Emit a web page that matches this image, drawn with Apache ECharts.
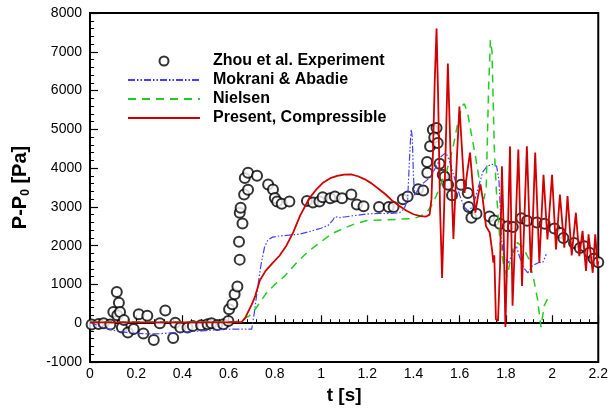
<!DOCTYPE html>
<html><head><meta charset="utf-8">
<script src="https://cdn.jsdelivr.net/npm/echarts@6/dist/echarts.min.js"></script>
<style>html,body{margin:0;padding:0;background:#fff}#c{width:611px;height:410px}</style>
</head><body><div id="c"></div>
<script>
// ---- Experiment (Zhou et al.) ----
const expT = [0.007,0.037,0.059,0.088,0.101,0.116,0.118,0.125,0.13,0.138,0.147,0.164,0.189,0.211,0.231,0.248,0.276,0.302,0.326,0.36,0.369,0.391,0.422,0.445,0.481,0.509,0.526,0.551,0.577,0.599,0.602,0.616,0.626,0.638,0.648,0.645,0.66,0.648,0.652,0.667,0.684,0.67,0.684,0.723,0.771,0.792,0.8,0.81,0.83,0.863,0.939,0.965,0.993,1.007,1.04,1.06,1.091,1.131,1.155,1.184,1.251,1.293,1.314,1.354,1.375,1.42,1.442,1.46,1.459,1.472,1.484,1.5,1.49,1.505,1.513,1.527,1.535,1.55,1.567,1.606,1.635,1.639,1.651,1.673,1.729,1.749,1.774,1.808,1.83,1.867,1.892,1.934,1.968,2.01,2.036,2.049,2.095,2.12,2.14,2.162,2.18,2.2];
const expP = [-30,-20,0,-30,290,805,205,530,290,-110,80,-240,-150,230,-265,190,-430,0,330,-380,15,-110,-110,-70,-50,-25,0,-45,-25,60,360,490,745,950,1640,2100,2570,2850,2980,3320,3440,3748,3878,3800,3577,3450,3230,3140,3080,3140,3155,3115,3140,3250,3225,3270,3225,3320,3063,3019,2995,2995,2995,3200,3270,3455,3420,3880,4160,4563,4991,5035,4790,4650,4110,3830,3780,3570,3300,3570,3355,2995,2720,2825,2755,2650,2565,2500,2480,2710,2640,2600,2565,2440,2325,2200,2070,1940,1985,1815,1660,1575];

// ---- Mokrani & Abadie ----
const mokT = [0,0.05,0.1,0.15,0.2,0.25,0.3,0.35,0.4,0.45,0.5,0.55,0.6,0.65,0.7,0.712,0.725,0.74,0.755,0.77,0.79,0.82,0.86,0.91,0.96,1.0,1.03,1.05,1.06,1.08,1.1,1.15,1.2,1.25,1.3,1.34,1.36,1.375,1.385,1.39,1.395,1.4,1.405,1.42,1.44,1.47,1.5,1.52,1.54,1.555,1.575,1.6,1.62,1.635,1.657,1.678,1.7,1.72,1.74,1.76,1.77,1.775,1.78,1.79,1.81,1.83,1.845,1.86,1.875,1.895,1.915,1.94,1.96,1.975];
const mokP = [20,-100,-180,-230,-260,-275,-270,-250,-230,-210,-190,-170,-155,-150,-150,300,900,1500,1950,2150,2220,2250,2270,2300,2380,2450,2520,2650,2750,2720,2740,2780,2820,2830,2830,2850,2950,3200,4500,5000,4800,3800,3300,3450,3600,3750,4050,4300,4400,4200,3800,3300,3000,2900,3000,3450,3900,4050,4100,4050,3700,3100,2200,1750,1550,1800,2000,1700,1450,1300,1480,1560,1570,1780];

// ---- Nielsen ----
const nieT = [0,0.3,0.6,0.63,0.66,0.69,0.72,0.76,0.8,0.84,0.9,0.95,1.0,1.05,1.1,1.15,1.2,1.3,1.4,1.43,1.46,1.48,1.5,1.52,1.545,1.57,1.59,1.61,1.62,1.635,1.65,1.67,1.69,1.705,1.715,1.725,1.733,1.74,1.75,1.76,1.775,1.79,1.805,1.83,1.85,1.875,1.9,1.92,1.937,1.952,1.966,1.98];
const nieP = [30,30,30,40,100,190,400,750,1000,1200,1600,1880,2100,2320,2450,2570,2650,2670,2700,2760,2880,3050,3300,3600,3950,4500,5100,5600,5660,5400,4900,4250,3500,3200,3500,6000,7300,7000,4500,3300,2100,1500,1200,1900,2080,1950,1650,1150,620,-100,450,620];

// ---- Present, Compressible ----
const preT = [0,0.2,0.4,0.6,0.655,0.67,0.685,0.7,0.715,0.735,0.76,0.79,0.82,0.85,0.88,0.91,0.95,0.98,1.01,1.04,1.07,1.1,1.13,1.16,1.19,1.22,1.25,1.28,1.31,1.34,1.37,1.4,1.43,1.455,1.47,1.478,1.485,1.492,1.5,1.507,1.515,1.524,1.533,1.549,1.56,1.573,1.586,1.599,1.61,1.621,1.633,1.645,1.656,1.668,1.68,1.69,1.7,1.714,1.73,1.74,1.746,1.75,1.757,1.766,1.775,1.783,1.79,1.798,1.808,1.818,1.829,1.842,1.854,1.87,1.891,1.909,1.927,1.945,1.963,1.98,2.0,2.017,2.034,2.053,2.067,2.085,2.103,2.118,2.132,2.147,2.158,2.176,2.187,2.197,2.2];
const preP = [20,20,20,25,30,120,300,480,700,1100,1350,1550,1740,2000,2350,2780,3230,3450,3630,3740,3800,3830,3840,3790,3710,3600,3460,3320,3150,3020,2900,2810,2760,2750,2800,3200,4500,6200,7600,5800,3000,1170,3000,6700,4500,2170,4000,5590,4500,3360,3900,4400,3600,2850,3300,3580,3200,2500,2340,1900,1560,1750,100,60,1500,4050,2500,-100,2200,4560,450,2500,4480,960,4560,1300,4400,1560,3830,2160,3830,1900,3320,1950,3280,1750,2850,1730,2380,1350,2290,1300,2290,1450,1600];

const seriesNames = ['Zhou et al. Experiment','Mokrani & Abadie','Nielsen','Present, Compressible'];
const xTicks = {min:0, max:2.2, step:0.2};
const yTicks = {min:-1000, max:8000, step:1000};

const zip = (a,b)=>a.map((v,i)=>[v,b[i]]);
const FONT = '"Liberation Sans", Arial, Helvetica, sans-serif';
const hideSym = {opacity:0};

const chart = echarts.init(document.getElementById('c'), null, {renderer:'canvas'});
chart.setOption({
  animation:false,
  textStyle:{fontFamily:FONT},
  grid:{left:90,right:12,top:13,bottom:47,show:true,borderColor:'#000',borderWidth:2,backgroundColor:'transparent'},
  legend:{
    orient:'vertical', left:127, top:53, padding:0, itemWidth:72, itemHeight:9, itemGap:3,
    data:[
      {name:seriesNames[0]},
      {name:seriesNames[1], itemStyle:hideSym},
      {name:seriesNames[2], itemStyle:hideSym},
      {name:seriesNames[3], itemStyle:hideSym}
    ],
    textStyle:{fontFamily:FONT,fontWeight:'bold',fontSize:16,color:'#000',padding:[0,0,0,8],lineHeight:15},
    symbolKeepAspect:true
  },
  xAxis:{
    type:'value', min:xTicks.min, max:xTicks.max, interval:xTicks.step,
    name:'t [s]', nameLocation:'middle', nameGap:24,
    nameTextStyle:{fontFamily:FONT,fontWeight:'bold',fontSize:19,color:'#000'},
    axisLine:{lineStyle:{color:'#000',width:2}},
    axisTick:{inside:true,length:8,lineStyle:{color:'#000',width:1.2}},
    minorTick:{show:true,splitNumber:5,length:4,lineStyle:{color:'#000',width:1}},
    splitLine:{show:false},
    axisLabel:{color:'#000',fontSize:14,fontFamily:FONT,margin:5}
  },
  yAxis:{
    type:'value', min:yTicks.min, max:yTicks.max, interval:yTicks.step,
    name:'{a|P-P}{s|0}{a| [Pa]}', nameLocation:'middle', nameGap:58, nameRotate:90,
    nameTextStyle:{fontFamily:FONT,color:'#000',rich:{
      a:{fontFamily:FONT,fontWeight:'bold',fontSize:20,color:'#000',lineHeight:24,verticalAlign:'middle'},
      s:{fontFamily:FONT,fontWeight:'bold',fontSize:12,color:'#000',lineHeight:24,verticalAlign:'bottom',padding:[8,0,0,0]}
    }},
    axisLine:{lineStyle:{color:'#000',width:2}},
    axisTick:{inside:true,length:8,lineStyle:{color:'#000',width:1.2}},
    minorTick:{show:true,splitNumber:5,length:4,lineStyle:{color:'#000',width:1}},
    splitLine:{show:false},
    axisLabel:{color:'#000',fontSize:14,fontFamily:FONT,margin:8,formatter:v=>String(v)}
  },
  series:[
    {name:seriesNames[0], type:'scatter', data:zip(expT,expP), symbol:'emptyCircle', symbolSize:10,
     itemStyle:{color:'#000',borderColor:'#000',borderWidth:1.5}, z:2},
    {name:seriesNames[1], type:'line', data:zip(mokT,mokP), showSymbol:false, symbol:'none', smooth:false,
     lineStyle:{color:'#4040ff',width:1.2,type:[7,2,1.5,2,1.5,2]}, itemStyle:{color:'#4040ff'}, z:3},
    {name:seriesNames[2], type:'line', data:zip(nieT,nieP), showSymbol:false, symbol:'none', smooth:false,
     lineStyle:{color:'#22cc22',width:1.5,type:[8,6]}, itemStyle:{color:'#22cc22'}, z:3},
    {name:seriesNames[3], type:'line', data:zip(preT,preP), showSymbol:false, symbol:'none', smooth:false,
     lineStyle:{color:'#d10000',width:1.8}, itemStyle:{color:'#d10000'}, z:4}
  ]
});
</script></body></html>
